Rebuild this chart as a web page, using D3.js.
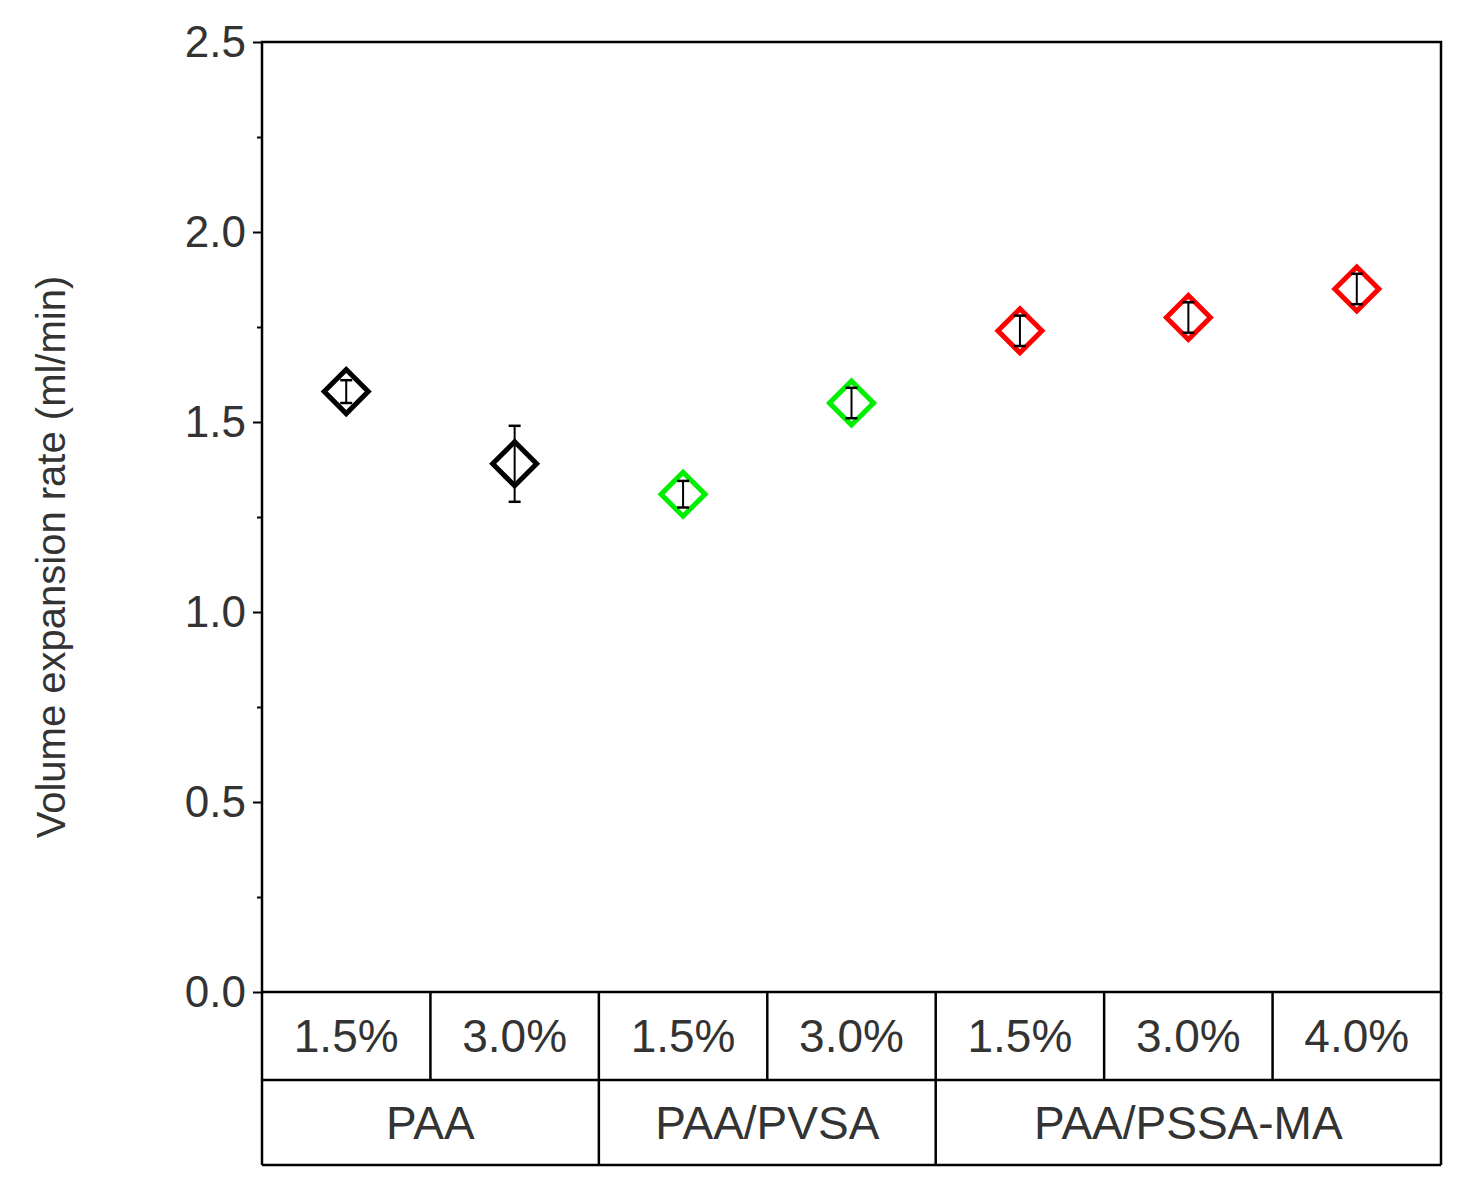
<!DOCTYPE html>
<html><head><meta charset="utf-8">
<script src="https://cdn.jsdelivr.net/npm/d3@7"></script>
<style>body{margin:0;background:#fff}</style></head>
<body><div id="chart"></div>
<script>
var conc = ["1.5%", "3.0%", "1.5%", "3.0%", "1.5%", "3.0%", "4.0%"];
var groups = ["PAA", "PAA", "PAA/PVSA", "PAA/PVSA", "PAA/PSSA-MA", "PAA/PSSA-MA", "PAA/PSSA-MA"];
var groupNames = ["PAA", "PAA/PVSA", "PAA/PSSA-MA"];
var rates = [1.58, 1.39, 1.31, 1.55, 1.74, 1.775, 1.85];
var errs = [0.03, 0.10, 0.035, 0.04, 0.04, 0.04, 0.04];
var colors = ["#000", "#000", "#00ee00", "#00ee00", "#ff0000", "#ff0000", "#ff0000"];

(function(){
var width = 1459, height = 1182;
var pL = 262, pR = 1441, pT = 42, pB = 992;
var row1 = 1080, row2 = 1165;

var svg = d3.select("#chart").append("svg")
  .attr("width", width).attr("height", height)
  .style("font-family", "Arial, 'Liberation Sans', sans-serif");

var x = d3.scaleBand().domain(d3.range(conc.length)).range([pL, pR]);
var y = d3.scaleLinear().domain([0, 2.5]).range([pB, pT]);

// frame
svg.append("rect").attr("x", pL).attr("y", pT)
  .attr("width", pR - pL).attr("height", pB - pT)
  .attr("fill", "none").attr("stroke", "#000").attr("stroke-width", 2.5);

// y axis
var yAxis = svg.append("g").attr("transform", "translate(" + pL + ",0)")
  .call(d3.axisLeft(y).tickValues(d3.range(0, 2.51, 0.5)).tickFormat(d3.format(".1f")).tickSize(9));
yAxis.select(".domain").remove();
yAxis.selectAll("line").attr("stroke-width", 2);
yAxis.selectAll("text").attr("font-size", 44).attr("fill", "#333").attr("dx", -4)
  .attr("font-family", "Arial, 'Liberation Sans', sans-serif");
svg.append("g").attr("transform", "translate(" + pL + ",0)")
  .call(d3.axisLeft(y).tickValues(d3.range(0.25, 2.5, 0.5)).tickFormat("").tickSize(5))
  .call(function(g){ g.select(".domain").remove(); g.selectAll("line").attr("stroke-width", 2); });

svg.append("text")
  .attr("transform", "translate(65," + ((pT + pB) / 2 + 40) + ") rotate(-90)")
  .attr("text-anchor", "middle").attr("font-size", 40).attr("fill", "#333")
  .text("Volume expansion rate (ml/min)");

// table under the plot
var tbl = svg.append("g").attr("stroke", "#000").attr("stroke-width", 2.5);
tbl.append("line").attr("x1", pL).attr("x2", pR).attr("y1", row1).attr("y2", row1);
tbl.append("line").attr("x1", pL).attr("x2", pR).attr("y1", row2).attr("y2", row2);
tbl.append("line").attr("x1", pL).attr("x2", pL).attr("y1", pB).attr("y2", row2);
tbl.append("line").attr("x1", pR).attr("x2", pR).attr("y1", pB).attr("y2", row2);
d3.range(1, conc.length).forEach(function(i){
  var bx = x(i);
  var groupEdge = groups[i] !== groups[i - 1];
  tbl.append("line").attr("x1", bx).attr("x2", bx).attr("y1", pB).attr("y2", groupEdge ? row2 : row1);
});
svg.selectAll(".conc").data(conc).enter().append("text")
  .attr("x", function(d, i){ return x(i) + x.bandwidth() / 2; })
  .attr("y", (pB + row1) / 2 + 16)
  .attr("text-anchor", "middle").attr("font-size", 46).attr("fill", "#333")
  .text(function(d){ return d; });
svg.selectAll(".grp").data(groupNames).enter().append("text")
  .attr("x", function(g){
    var idx = groups.map(function(v, i){ return v === g ? i : -1; }).filter(function(i){ return i >= 0; });
    return (x(idx[0]) + x(idx[idx.length - 1]) + x.bandwidth()) / 2;
  })
  .attr("y", (row1 + row2) / 2 + 16)
  .attr("text-anchor", "middle").attr("font-size", 46).attr("fill", "#333")
  .text(function(d){ return d; });

// points
var pts = svg.selectAll(".pt").data(rates).enter().append("g")
  .attr("transform", function(d, i){ return "translate(" + (x(i) + x.bandwidth() / 2) + "," + y(d) + ")"; });
var s = 22;
pts.append("path")
  .attr("d", "M0," + (-s) + "L" + s + ",0L0," + s + "L" + (-s) + ",0Z")
  .attr("fill", "none").attr("stroke-width", 5)
  .attr("stroke", function(d, i){ return colors[i]; });
pts.each(function(d, i){
  var g = d3.select(this);
  var e = y(d - errs[i]) - y(d);
  g.append("line").attr("x1", 0).attr("x2", 0).attr("y1", -e).attr("y2", e).attr("stroke", "#000").attr("stroke-width", 2);
  [-e, e].forEach(function(v){
    g.append("line").attr("x1", -6).attr("x2", 6).attr("y1", v).attr("y2", v).attr("stroke", "#000").attr("stroke-width", 2.5);
  });
});
})();
</script>
</body></html>
